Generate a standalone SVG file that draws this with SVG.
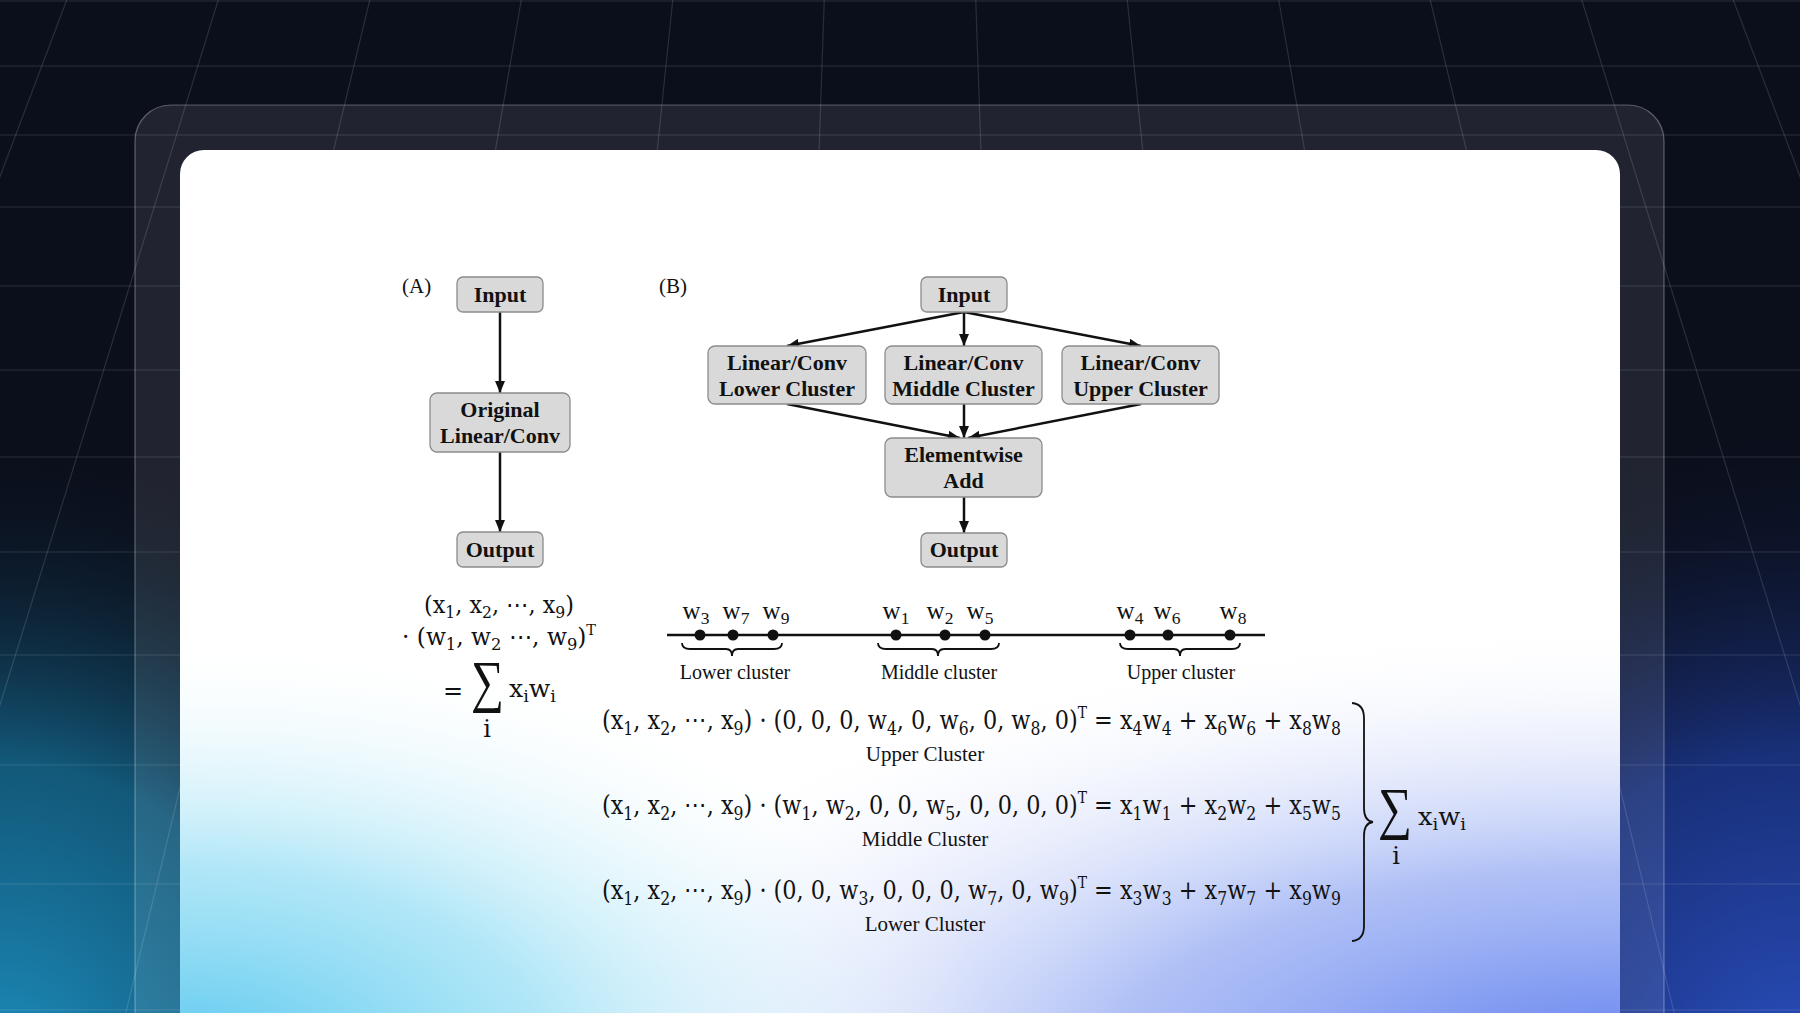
<svg xmlns="http://www.w3.org/2000/svg" width="1800" height="1013" viewBox="0 0 1800 1013">
<defs>
<style>
.node rect{fill:#d9d9d9;stroke:#8c8c8c;stroke-width:1.3}
.nt{font-family:"Liberation Serif","Times New Roman",serif;font-weight:bold;font-size:22px;fill:#111;text-anchor:middle}
.lb{font-family:"Liberation Serif","Times New Roman",serif;font-size:21px;fill:#111}
.cl{font-family:"Liberation Serif","Times New Roman",serif;font-size:20px;fill:#111;text-anchor:middle}
.wl{font-family:"Liberation Serif","Times New Roman",serif;font-size:25px;fill:#111;text-anchor:middle}
.eq{font-family:"DejaVu Serif","Liberation Serif",serif;font-size:26px;fill:#111}
.eqa{font-family:"DejaVu Serif","Liberation Serif",serif;font-size:24px;fill:#111}
.sm{font-family:"Liberation Serif","DejaVu Serif",serif;font-size:58px;fill:#111}
.sb{font-size:0.7em}
.sp{font-size:0.62em}
.conn line{stroke:#111;stroke-width:2.5;fill:none}
.grid line{stroke:#ffffff;stroke-opacity:0.13;stroke-width:1.2}
.br{stroke:#111;stroke-width:1.8;fill:none}
</style>
<marker id="ah" markerUnits="userSpaceOnUse" markerWidth="12" markerHeight="10" refX="12" refY="5" orient="auto"><path d="M0,0 L12,5 L0,10 z" fill="#111"/></marker>
<radialGradient id="bgTeal" gradientUnits="userSpaceOnUse" cx="0" cy="0" r="1" gradientTransform="translate(0 1080) scale(580 640)">
<stop offset="0" stop-color="#1d8fc0"/><stop offset="0.5" stop-color="#146a90" stop-opacity="0.8"/><stop offset="1" stop-color="#0b0f1c" stop-opacity="0"/>
</radialGradient>
<radialGradient id="bgBlue" gradientUnits="userSpaceOnUse" cx="0" cy="0" r="1" gradientTransform="translate(1800 1080) scale(640 660)">
<stop offset="0" stop-color="#2a4fc0"/><stop offset="0.5" stop-color="#1c3890" stop-opacity="0.8"/><stop offset="1" stop-color="#0b0f1c" stop-opacity="0"/>
</radialGradient>
<radialGradient id="cdCyan" gradientUnits="userSpaceOnUse" cx="0" cy="0" r="1" gradientTransform="translate(180 1060) scale(820 430)">
<stop offset="0" stop-color="#5ac8ef"/><stop offset="0.45" stop-color="#8fdcf4" stop-opacity="0.7"/><stop offset="1" stop-color="#ffffff" stop-opacity="0"/>
</radialGradient>
<radialGradient id="cdBlue" gradientUnits="userSpaceOnUse" cx="0" cy="0" r="1" gradientTransform="translate(1620 1070) scale(1150 450)">
<stop offset="0" stop-color="#5f7fef"/><stop offset="0.45" stop-color="#8fa6f2" stop-opacity="0.7"/><stop offset="1" stop-color="#ffffff" stop-opacity="0"/>
</radialGradient>
<clipPath id="cardclip"><rect x="180" y="150" width="1440" height="900" rx="24"/></clipPath>
</defs>

<rect x="0" y="0" width="1800" height="1013" fill="#0b0f1c"/>
<rect x="0" y="0" width="1800" height="1013" fill="url(#bgTeal)"/>
<rect x="0" y="0" width="1800" height="1013" fill="url(#bgBlue)"/>

<g class="grid">
<line x1="0" y1="1" x2="1800" y2="1"/>
<line x1="0" y1="66" x2="1800" y2="66"/>
<line x1="0" y1="135" x2="1800" y2="135"/>
<line x1="0" y1="207" x2="1800" y2="207"/>
<line x1="0" y1="286" x2="1800" y2="286"/>
<line x1="0" y1="370" x2="1800" y2="370"/>
<line x1="0" y1="457" x2="1800" y2="457"/>
<line x1="0" y1="552" x2="1800" y2="552"/>
<line x1="0" y1="655" x2="1800" y2="655"/>
<line x1="0" y1="765" x2="1800" y2="765"/>
<line x1="0" y1="884" x2="1800" y2="884"/>
<line x1="0" y1="1010" x2="1800" y2="1010"/>
<line x1="824.25" y1="0" x2="789.4" y2="1013"/>
<line x1="975.75" y1="0" x2="1010.6" y2="1013"/>
<line x1="672.75" y1="0" x2="568.2" y2="1013"/>
<line x1="1127.25" y1="0" x2="1231.8" y2="1013"/>
<line x1="521.25" y1="0" x2="347" y2="1013"/>
<line x1="1278.75" y1="0" x2="1453" y2="1013"/>
<line x1="369.75" y1="0" x2="125.8" y2="1013"/>
<line x1="1430.25" y1="0" x2="1674.2" y2="1013"/>
<line x1="218.25" y1="0" x2="-95.4" y2="1013"/>
<line x1="1581.75" y1="0" x2="1895.4" y2="1013"/>
<line x1="66.75" y1="0" x2="-316.5" y2="1013"/>
<line x1="1733.25" y1="0" x2="2116.5" y2="1013"/>
</g>

<rect x="135" y="105" width="1529" height="1000" rx="36" fill="#ffffff" fill-opacity="0.09" stroke="#ffffff" stroke-opacity="0.3" stroke-width="1.2"/>

<g clip-path="url(#cardclip)">
<rect x="180" y="150" width="1440" height="900" fill="#ffffff"/>
<rect x="180" y="150" width="1440" height="900" fill="url(#cdBlue)"/>
<rect x="180" y="150" width="1440" height="900" fill="url(#cdCyan)"/>
</g>

<text class="lb" x="402" y="293">(A)</text>
<text class="lb" x="659" y="293">(B)</text>

<g class="conn">
<line x1="500" y1="312" x2="500" y2="393" marker-end="url(#ah)"/>
<line x1="500" y1="452" x2="500" y2="532" marker-end="url(#ah)"/>
<line x1="964" y1="312" x2="787" y2="346" marker-end="url(#ah)"/>
<line x1="964" y1="312" x2="964" y2="346" marker-end="url(#ah)"/>
<line x1="964" y1="312" x2="1141" y2="346" marker-end="url(#ah)"/>
<line x1="787" y1="404" x2="960" y2="438" marker-end="url(#ah)"/>
<line x1="964" y1="404" x2="964" y2="438" marker-end="url(#ah)"/>
<line x1="1141" y1="404" x2="968" y2="438" marker-end="url(#ah)"/>
<line x1="964" y1="497" x2="964" y2="533" marker-end="url(#ah)"/>
</g>

<g id="a-input" class="node"><rect x="457" y="277" width="86" height="35" rx="6"/><text class="nt" x="500" y="302">Input</text></g>
<g id="a-orig" class="node"><rect x="430" y="393" width="140" height="59" rx="7"/><text class="nt" x="500" y="417">Original</text><text class="nt" x="500" y="443">Linear/Conv</text></g>
<g id="a-output" class="node"><rect x="457" y="532" width="86" height="35" rx="6"/><text class="nt" x="500" y="557">Output</text></g>

<g id="b-input" class="node"><rect x="921" y="277" width="86" height="35" rx="6"/><text class="nt" x="964" y="302">Input</text></g>
<g id="b-lower" class="node"><rect x="708" y="346" width="158" height="58" rx="7"/><text class="nt" x="787" y="370">Linear/Conv</text><text class="nt" x="787" y="396">Lower Cluster</text></g>
<g id="b-middle" class="node"><rect x="885" y="346" width="157" height="58" rx="7"/><text class="nt" x="963.5" y="370">Linear/Conv</text><text class="nt" x="963.5" y="396">Middle Cluster</text></g>
<g id="b-upper" class="node"><rect x="1062" y="346" width="157" height="58" rx="7"/><text class="nt" x="1140.5" y="370">Linear/Conv</text><text class="nt" x="1140.5" y="396">Upper Cluster</text></g>
<g id="b-add" class="node"><rect x="885" y="438" width="157" height="59" rx="7"/><text class="nt" x="963.5" y="462">Elementwise</text><text class="nt" x="963.5" y="488">Add</text></g>
<g id="b-output" class="node"><rect x="921" y="533" width="86" height="34" rx="6"/><text class="nt" x="964" y="557">Output</text></g>

<g id="formula-a">
<text class="eqa" x="424" y="613" textLength="150" lengthAdjust="spacingAndGlyphs">(x<tspan class="sb" dy="5">1</tspan><tspan dy="-5">, x</tspan><tspan class="sb" dy="5">2</tspan><tspan dy="-5">, ⋯, x</tspan><tspan class="sb" dy="5">9</tspan><tspan dy="-5">)</tspan></text>
<text class="eqa" x="402" y="645" textLength="194" lengthAdjust="spacingAndGlyphs">· (w<tspan class="sb" dy="5">1</tspan><tspan dy="-5">, w</tspan><tspan class="sb" dy="5">2</tspan><tspan dy="-5"> ⋯, w</tspan><tspan class="sb" dy="5">9</tspan><tspan dy="-5">)</tspan><tspan class="sp" dy="-10">T</tspan></text>
<text class="eqa" x="443" y="699">=</text>
<text class="sm" x="471" y="701" textLength="33" lengthAdjust="spacingAndGlyphs">∑</text>
<text class="eqa" x="487" y="737" font-size="17" text-anchor="middle">i</text>
<text class="eqa" x="509" y="697" textLength="47" lengthAdjust="spacingAndGlyphs">x<tspan class="sb" dy="5">i</tspan><tspan dy="-5">w</tspan><tspan class="sb" dy="5">i</tspan></text>
</g>

<g id="weights">
<line x1="667" y1="635" x2="1265" y2="635" stroke="#111" stroke-width="2.6"/>
<g fill="#111">
<circle cx="700" cy="635" r="5.5"/><circle cx="733" cy="635" r="5.5"/><circle cx="773" cy="635" r="5.5"/>
<circle cx="896" cy="635" r="5.5"/><circle cx="945" cy="635" r="5.5"/><circle cx="985" cy="635" r="5.5"/>
<circle cx="1130" cy="635" r="5.5"/><circle cx="1168" cy="635" r="5.5"/><circle cx="1230" cy="635" r="5.5"/>
</g>
<text class="wl" x="696" y="619">w<tspan class="sb" dy="5">3</tspan></text>
<text class="wl" x="736" y="619">w<tspan class="sb" dy="5">7</tspan></text>
<text class="wl" x="776" y="619">w<tspan class="sb" dy="5">9</tspan></text>
<text class="wl" x="896" y="619">w<tspan class="sb" dy="5">1</tspan></text>
<text class="wl" x="940" y="619">w<tspan class="sb" dy="5">2</tspan></text>
<text class="wl" x="980" y="619">w<tspan class="sb" dy="5">5</tspan></text>
<text class="wl" x="1130" y="619">w<tspan class="sb" dy="5">4</tspan></text>
<text class="wl" x="1167" y="619">w<tspan class="sb" dy="5">6</tspan></text>
<text class="wl" x="1233" y="619">w<tspan class="sb" dy="5">8</tspan></text>
<path class="br" d="M682 643 Q682 649 690 649 L726 649 Q732 649 732 656 Q732 649 738 649 L774 649 Q782 649 782 643"/>
<path class="br" d="M878 643 Q878 649 886 649 L932 649 Q938 649 938 656 Q938 649 944 649 L991 649 Q999 649 999 643"/>
<path class="br" d="M1120 643 Q1120 649 1128 649 L1174 649 Q1180 649 1180 656 Q1180 649 1186 649 L1232 649 Q1240 649 1240 643"/>
<text class="cl" x="735" y="679">Lower cluster</text>
<text class="cl" x="939" y="679">Middle cluster</text>
<text class="cl" x="1181" y="679">Upper cluster</text>
</g>

<g id="equations">
<text class="eq" x="602" y="729" textLength="739" lengthAdjust="spacingAndGlyphs">(x<tspan class="sb" dy="6">1</tspan><tspan dy="-6">, x</tspan><tspan class="sb" dy="6">2</tspan><tspan dy="-6">, ⋯, x</tspan><tspan class="sb" dy="6">9</tspan><tspan dy="-6">) · (0, 0, 0, w</tspan><tspan class="sb" dy="6">4</tspan><tspan dy="-6">, 0, w</tspan><tspan class="sb" dy="6">6</tspan><tspan dy="-6">, 0, w</tspan><tspan class="sb" dy="6">8</tspan><tspan dy="-6">, 0)</tspan><tspan class="sp" dy="-11">T</tspan><tspan dy="11"> = x</tspan><tspan class="sb" dy="6">4</tspan><tspan dy="-6">w</tspan><tspan class="sb" dy="6">4</tspan><tspan dy="-6"> + x</tspan><tspan class="sb" dy="6">6</tspan><tspan dy="-6">w</tspan><tspan class="sb" dy="6">6</tspan><tspan dy="-6"> + x</tspan><tspan class="sb" dy="6">8</tspan><tspan dy="-6">w</tspan><tspan class="sb" dy="6">8</tspan></text>
<text class="lb" x="925" y="761" text-anchor="middle">Upper Cluster</text>
<text class="eq" x="602" y="814" textLength="739" lengthAdjust="spacingAndGlyphs">(x<tspan class="sb" dy="6">1</tspan><tspan dy="-6">, x</tspan><tspan class="sb" dy="6">2</tspan><tspan dy="-6">, ⋯, x</tspan><tspan class="sb" dy="6">9</tspan><tspan dy="-6">) · (w</tspan><tspan class="sb" dy="6">1</tspan><tspan dy="-6">, w</tspan><tspan class="sb" dy="6">2</tspan><tspan dy="-6">, 0, 0, w</tspan><tspan class="sb" dy="6">5</tspan><tspan dy="-6">, 0, 0, 0, 0)</tspan><tspan class="sp" dy="-11">T</tspan><tspan dy="11"> = x</tspan><tspan class="sb" dy="6">1</tspan><tspan dy="-6">w</tspan><tspan class="sb" dy="6">1</tspan><tspan dy="-6"> + x</tspan><tspan class="sb" dy="6">2</tspan><tspan dy="-6">w</tspan><tspan class="sb" dy="6">2</tspan><tspan dy="-6"> + x</tspan><tspan class="sb" dy="6">5</tspan><tspan dy="-6">w</tspan><tspan class="sb" dy="6">5</tspan></text>
<text class="lb" x="925" y="846" text-anchor="middle">Middle Cluster</text>
<text class="eq" x="602" y="899" textLength="739" lengthAdjust="spacingAndGlyphs">(x<tspan class="sb" dy="6">1</tspan><tspan dy="-6">, x</tspan><tspan class="sb" dy="6">2</tspan><tspan dy="-6">, ⋯, x</tspan><tspan class="sb" dy="6">9</tspan><tspan dy="-6">) · (0, 0, w</tspan><tspan class="sb" dy="6">3</tspan><tspan dy="-6">, 0, 0, 0, w</tspan><tspan class="sb" dy="6">7</tspan><tspan dy="-6">, 0, w</tspan><tspan class="sb" dy="6">9</tspan><tspan dy="-6">)</tspan><tspan class="sp" dy="-11">T</tspan><tspan dy="11"> = x</tspan><tspan class="sb" dy="6">3</tspan><tspan dy="-6">w</tspan><tspan class="sb" dy="6">3</tspan><tspan dy="-6"> + x</tspan><tspan class="sb" dy="6">7</tspan><tspan dy="-6">w</tspan><tspan class="sb" dy="6">7</tspan><tspan dy="-6"> + x</tspan><tspan class="sb" dy="6">9</tspan><tspan dy="-6">w</tspan><tspan class="sb" dy="6">9</tspan></text>
<text class="lb" x="925" y="931" text-anchor="middle">Lower Cluster</text>
<path class="br" d="M1352 703 Q1364 704 1364 718 L1364 808 Q1364 821 1373 822 Q1364 823 1364 836 L1364 926 Q1364 940 1352 941"/>
<text class="sm" x="1378" y="828" textLength="34" lengthAdjust="spacingAndGlyphs">∑</text>
<text class="eqa" x="1396" y="864" font-size="17" text-anchor="middle">i</text>
<text class="eqa" x="1418" y="825" textLength="48" lengthAdjust="spacingAndGlyphs">x<tspan class="sb" dy="5">i</tspan><tspan dy="-5">w</tspan><tspan class="sb" dy="5">i</tspan></text>
</g>
</svg>
